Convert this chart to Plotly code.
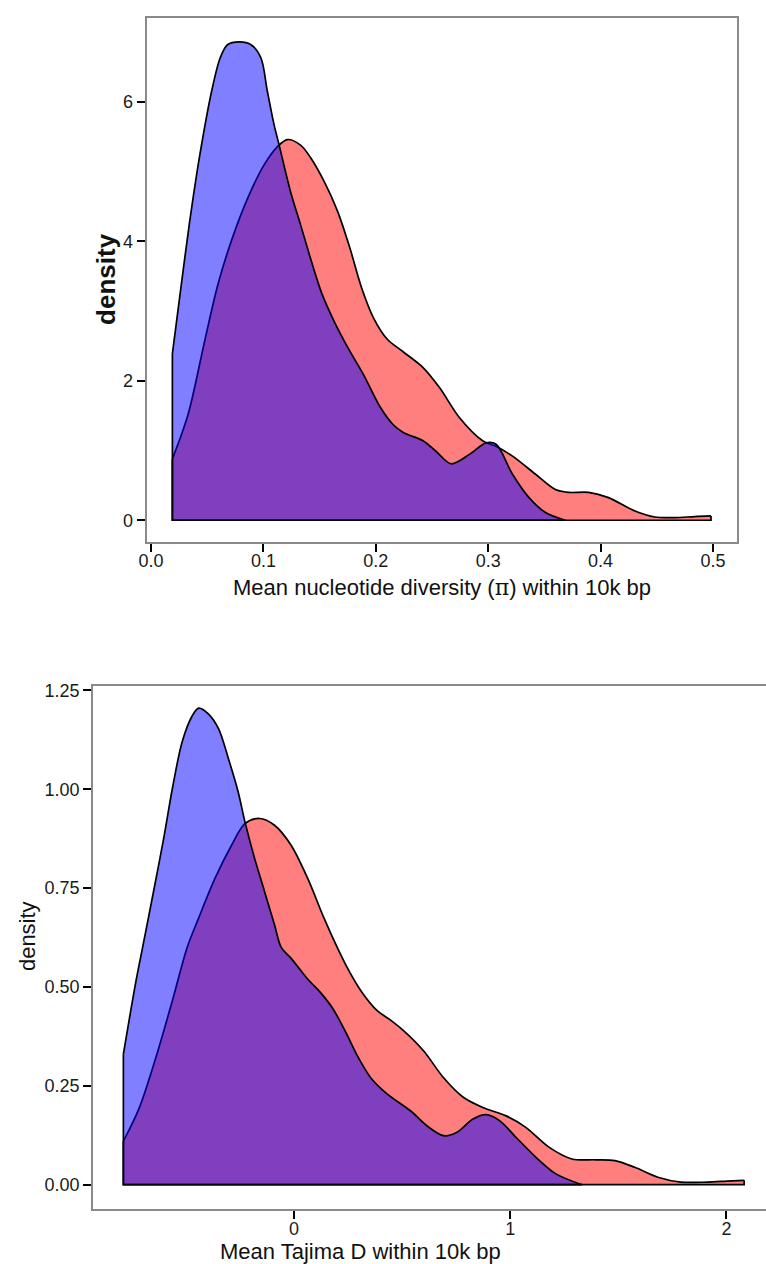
import plotly.graph_objects as go

# --- nucleotide diversity (pi) densities ---
pi_blue_x = [0.019, 0.0275, 0.034, 0.043, 0.054, 0.0615, 0.068, 0.0786, 0.089, 0.0978,
             0.1034, 0.1095, 0.114, 0.124, 0.133, 0.142, 0.152, 0.163, 0.176, 0.189,
             0.204, 0.2155, 0.2244, 0.242, 0.2535, 0.267, 0.2833, 0.298, 0.307, 0.3216,
             0.3363, 0.351, 0.3686]
pi_blue_y = [2.39, 3.45, 4.24, 5.2, 6.16, 6.63, 6.82, 6.86, 6.82, 6.63,
             6.16, 5.67, 5.38, 4.72, 4.24, 3.75, 3.25, 2.85, 2.45, 2.09,
             1.62, 1.37, 1.26, 1.14, 0.99, 0.81, 0.945, 1.11, 1.09, 0.66,
             0.325, 0.11, 0.0]

pi_red_x = [0.019, 0.033, 0.0477, 0.0595, 0.0713, 0.086, 0.1007, 0.1125, 0.1213, 0.133,
            0.142, 0.154, 0.166, 0.177, 0.187, 0.198, 0.21, 0.224, 0.242, 0.2568,
            0.2745, 0.295, 0.3068, 0.3216, 0.3421, 0.3598, 0.3716, 0.3893, 0.407, 0.4305,
            0.4482, 0.4659, 0.4836, 0.4982]
pi_red_y = [0.88, 1.52, 2.57, 3.38, 4.0, 4.62, 5.1, 5.36, 5.46, 5.38,
            5.2, 4.86, 4.43, 3.9, 3.35, 2.9, 2.6, 2.42, 2.19, 1.9,
            1.47, 1.14, 1.06, 0.92, 0.66, 0.44, 0.40, 0.40, 0.325, 0.133,
            0.047, 0.038, 0.053, 0.062]

# --- Tajima's D densities ---
td_blue_x = [-0.789, -0.731, -0.700, -0.650, -0.601, -0.563, -0.517, -0.471, -0.441, -0.395,
             -0.349, -0.303, -0.258, -0.227, -0.182, -0.136, -0.090, -0.059, -0.014, 0.063,
             0.124, 0.18, 0.24, 0.294, 0.3556, 0.4316, 0.5387, 0.6146, 0.691, 0.752,
             0.828, 0.889, 0.9506, 1.0265, 1.118, 1.2096, 1.332]
td_blue_y = [0.33, 0.514, 0.60, 0.74, 0.88, 1.0, 1.12, 1.185, 1.205, 1.19,
             1.153, 1.077, 0.993, 0.918, 0.825, 0.741, 0.657, 0.60, 0.573, 0.52,
             0.485, 0.445, 0.385, 0.325, 0.27, 0.229, 0.187, 0.149, 0.124, 0.132,
             0.166, 0.177, 0.162, 0.12, 0.07, 0.028, 0.0]

td_red_x = [-0.789, -0.715, -0.639, -0.563, -0.494, -0.441, -0.365, -0.288, -0.227, -0.159,
            -0.090, -0.014, 0.063, 0.139, 0.2, 0.25, 0.31, 0.385, 0.45, 0.508, 0.6,
            0.691, 0.783, 0.874, 0.981, 1.072, 1.179, 1.286, 1.393, 1.484, 1.576,
            1.683, 1.789, 1.911, 2.003, 2.082]
td_red_y = [0.11, 0.195, 0.321, 0.464, 0.60, 0.674, 0.775, 0.859, 0.913, 0.926,
            0.909, 0.859, 0.775, 0.674, 0.60, 0.545, 0.49, 0.44, 0.415, 0.389, 0.338,
            0.271, 0.221, 0.195, 0.174, 0.145, 0.095, 0.065, 0.063, 0.061, 0.044,
            0.019, 0.0066, 0.0066, 0.009, 0.011]

pi_ticks = [0.0, 0.1, 0.2, 0.3, 0.4, 0.5]
pi_ticktext = ["0.0", "0.1", "0.2", "0.3", "0.4", "0.5"]
pi_yticks = [0, 2, 4, 6]
td_ticks = [0, 1, 2]
td_yticks = [0.0, 0.25, 0.5, 0.75, 1.0, 1.25]
td_yticktext = ["0.00", "0.25", "0.50", "0.75", "1.00", "1.25"]

RED_FILL = "rgba(255,0,0,0.5)"
BLUE_FILL = "rgba(0,0,255,0.5)"
OUTLINE = dict(color="black", width=1.7)

fig = go.Figure()


def add_density(x, y, fill, xa, ya):
    # smooth density curve filled down to zero
    fig.add_trace(go.Scatter(
        x=x, y=y, mode="lines", line=dict(shape="spline", smoothing=0.9, **OUTLINE),
        fill="tozeroy", fillcolor=fill, xaxis=xa, yaxis=ya,
        showlegend=False, hoverinfo="skip"))
    # closing edges of the polygon: vertical ends and baseline
    fig.add_trace(go.Scatter(
        x=[x[0], x[0], x[-1], x[-1]], y=[y[0], 0, 0, y[-1]], mode="lines",
        line=OUTLINE, xaxis=xa, yaxis=ya, showlegend=False, hoverinfo="skip"))


add_density(pi_red_x, pi_red_y, RED_FILL, "x", "y")
add_density(pi_blue_x, pi_blue_y, BLUE_FILL, "x", "y")
add_density(td_red_x, td_red_y, RED_FILL, "x2", "y2")
add_density(td_blue_x, td_blue_y, BLUE_FILL, "x2", "y2")

W, H = 766, 1264
FONT = "Liberation Sans, Arial, sans-serif"
TICKFONT = dict(family=FONT, size=18, color="#1a1a1a")
TITLEFONT = dict(family=FONT, size=22, color="#111111")

axis_common = dict(
    showgrid=False, zeroline=False, showline=True, linecolor="#8a8a8a", linewidth=2,
    ticks="outside", tickcolor="black", tickwidth=2, ticklen=8,
    tickfont=TICKFONT,
)

fig.update_layout(
    width=W, height=H, margin=dict(l=0, r=0, t=0, b=0),
    paper_bgcolor="white", plot_bgcolor="white",
    xaxis=dict(domain=[140 / W, 737 / W], range=[-0.004, 0.5216], anchor="y", mirror=True,
               tickvals=pi_ticks, ticktext=pi_ticktext, ticklabelstandoff=-6, **axis_common),
    yaxis=dict(domain=[1 - 539 / H, 1 - 13.3 / H], range=[-0.31, 7.2], anchor="x", mirror=True,
               tickvals=pi_yticks, **axis_common),
    # the lower panel runs past the right edge of the page, so no right border
    xaxis2=dict(domain=[86 / W, 1.0], range=[-0.929, 2.183], anchor="y2", mirror=True,
                tickvals=td_ticks, ticklabelstandoff=-6, **axis_common),
    yaxis2=dict(domain=[1 - 1209 / H, 1 - 683.3 / H], range=[-0.062, 1.262], anchor="x2",
                mirror=False, tickvals=td_yticks, ticktext=td_yticktext, **axis_common),
    annotations=[
        dict(text="Mean nucleotide diversity (<span style='font-family:DejaVu Serif'>\u03c0</span>) within 10k bp",
             x=439 / W, y=1 - 585 / H, xref="paper", yref="paper", xanchor="center",
             yanchor="middle", showarrow=False, font=TITLEFONT),
        dict(text="<b>density</b>", x=99 / W, y=1 - 275 / H, xref="paper", yref="paper",
             xanchor="center", yanchor="middle", textangle=-90, showarrow=False,
             font=dict(family=FONT, size=26, color="#111111")),
        dict(text="Mean Tajima D within 10k bp", x=356 / W, y=1 - 1251 / H,
             xref="paper", yref="paper", xanchor="center", yanchor="middle",
             showarrow=False, font=TITLEFONT),
        dict(text="density", x=20 / W, y=1 - 935 / H, xref="paper", yref="paper",
             xanchor="center", yanchor="middle", textangle=-90, showarrow=False,
             font=TITLEFONT),
    ],
)

fig.write_html("out.html")
